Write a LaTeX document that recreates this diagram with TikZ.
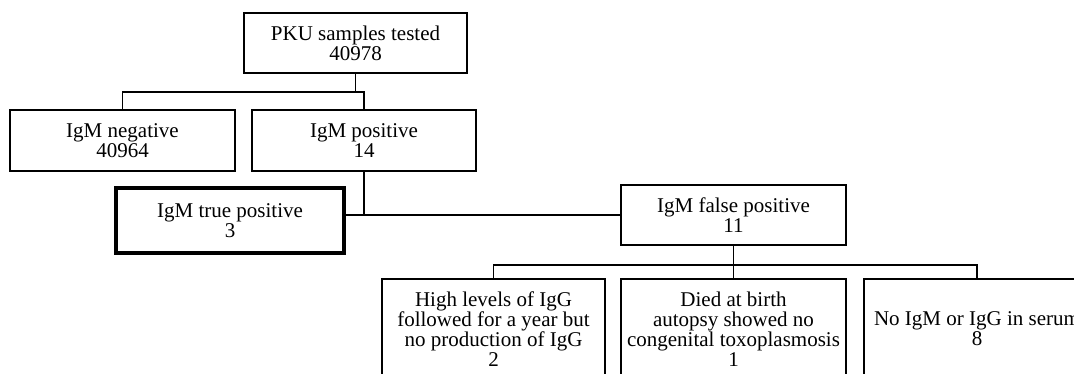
\documentclass[tikz,border=0pt]{standalone}
\usepackage{fontspec}
\setmainfont{Liberation Serif}
\usetikzlibrary{positioning}

\tikzset{
  box/.style={draw, line width=1.6pt, align=center, inner sep=0pt,
    minimum width=224pt, minimum height=60pt, font=\fontsize{21}{20}\selectfont},
  heavybox/.style={box, line width=4.5pt, minimum width=228pt, minimum height=65pt},
  tallbox/.style={box, minimum height=100pt},
  link/.style={line width=1.6pt}
}

\begin{document}
\begin{tikzpicture}[x=1pt, y=-1pt]
  \useasboundingbox (0,0) rectangle (1074,373);
  \clip (0,0) rectangle (1074,373);
  % first level
  \node[box, minimum width=223pt] (tested) at (355.5,43) {PKU samples tested\\40978};
  \node[box, minimum width=225pt, minimum height=61pt] (neg) at (122.5,140.5) {IgM negative\\40964};
  \node[box, minimum width=224pt, minimum height=61pt] (pos) at (364,140.5) {IgM positive\\14};
  % second level
  \node[heavybox] (truepos) at (230,220.5) {IgM true positive\\3};
  \node[box, minimum width=225pt] (falsepos) at (733.5,215) {IgM false positive\\11};
  % false positive cases
  \node[tallbox, minimum width=223pt] (highigg) at (493.5,329) {High levels of IgG\\followed for a year but\\no production of IgG\\2};
  \node[tallbox, minimum width=225pt] (died) at (733.5,329) {Died at birth\\autopsy showed no\\congenital toxoplasmosis\\1};
  \node[tallbox, minimum width=226pt] (noigm) at (977,329) {No IgM or IgG in serum\\8};
  % connectors
  \draw[link] (tested.south) -- ++(0,18) coordinate (forka);
  \draw[link] (neg.north) |- (forka) -| (pos.north);
  \draw[link] (pos.south) |- (falsepos.west);
  \draw[link] (truepos.east |- falsepos.west) -- (falsepos.west);
  \draw[link] (falsepos.south) -- ++(0,19) coordinate (forkb);
  \draw[link] (highigg.north) |- (forkb) -| (noigm.north);
  \draw[link] (forkb) -- (died.north);
\end{tikzpicture}
\end{document}
